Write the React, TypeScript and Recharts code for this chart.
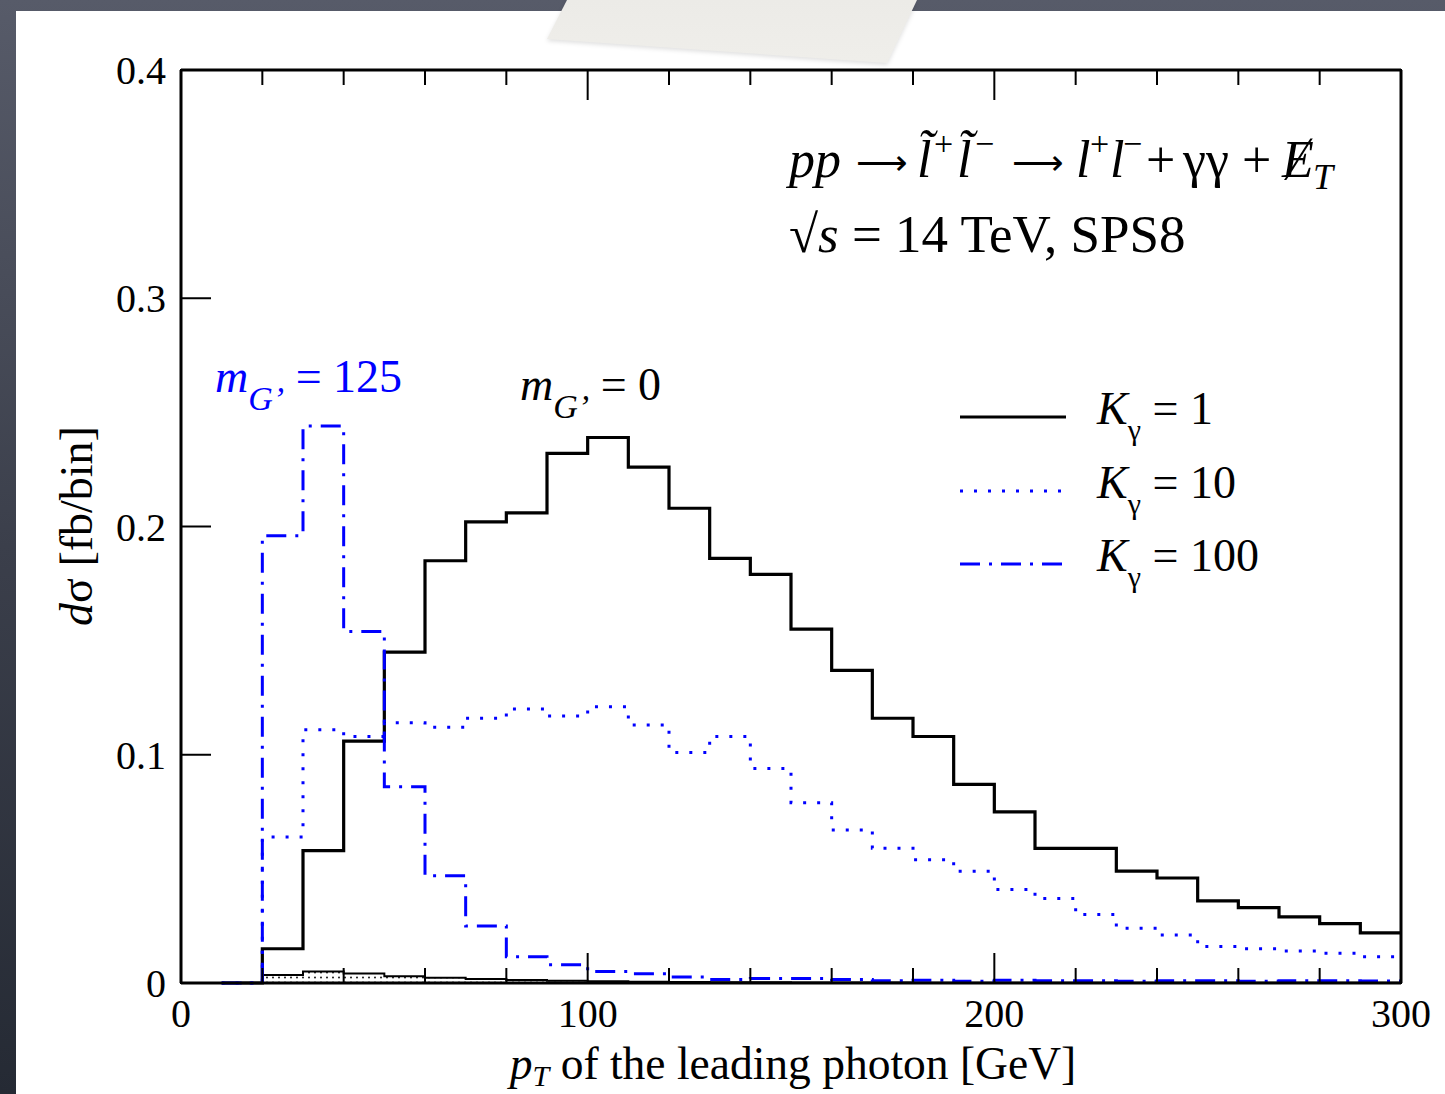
import React from "react";
import { ComposedChart, Line, Area, XAxis, YAxis, Legend, Label } from "recharts";

const FONT = '"Liberation Serif", "Times New Roman", serif';
const BLUE = "#0000ff";

// lower edge of each 10 GeV bin, pT of the leading photon
const binStart = [10, 20, 30, 40, 50, 60, 70, 80, 90, 100, 110, 120, 130, 140, 150, 160, 170, 180, 190, 200, 210, 220, 230, 240, 250, 260, 270, 280, 290];
const binEnd = 300;

// dσ [fb/bin]
const kGamma1 = [0, 0.015, 0.058, 0.106, 0.145, 0.185, 0.202, 0.206, 0.232, 0.239, 0.226, 0.208, 0.186, 0.179, 0.155, 0.137, 0.116, 0.108, 0.087, 0.075, 0.059, 0.059, 0.049, 0.046, 0.036, 0.033, 0.029, 0.026, 0.022];
const kGamma10 = [0, 0.064, 0.111, 0.108, 0.114, 0.112, 0.116, 0.12, 0.117, 0.121, 0.113, 0.101, 0.108, 0.094, 0.079, 0.067, 0.059, 0.054, 0.049, 0.041, 0.037, 0.03, 0.024, 0.021, 0.016, 0.015, 0.014, 0.013, 0.0115];
const kGamma100 = [0, 0.196, 0.244, 0.154, 0.086, 0.047, 0.025, 0.0115, 0.008, 0.005, 0.004, 0.0026, 0.0015, 0.002, 0.002, 0.0015, 0.001, 0.0012, 0.0008, 0.0012, 0.001, 0.001, 0.0008, 0.001, 0.001, 0.0008, 0.001, 0.001, 0.0009];
const shaded = [0, 0.0035, 0.005, 0.0042, 0.003, 0.0023, 0.0017, 0.0013, 0.001, 0.0008, 0.0006, 0.0004, 0.0003, 0.0003, 0.0002, 0.0002, 0.0002, 0.0001, 0.0001, 0.0001, 0.0001, 0.0001, 0.0001, 0.0001, 0.0001, 0.0001, 0.0001, 0.0001, 0.0001];

const xMajorTicks = [0, 100, 200, 300];
const xMinorTicks = [20, 40, 60, 80, 120, 140, 160, 180, 220, 240, 260, 280];
const yMajorTicks = [0, 0.1, 0.2, 0.3, 0.4];
const yTickLabels = ["0", "0.1", "0.2", "0.3", "0.4"];
const yMinorTicks = [0.02, 0.04, 0.06, 0.08, 0.12, 0.14, 0.16, 0.18, 0.22, 0.24, 0.26, 0.28, 0.32, 0.34, 0.36, 0.38];

const last = (a: number[]) => a[a.length - 1];
const data = [
  ...binStart.map((pt, i) => ({ pt, k1: kGamma1[i], k10: kGamma10[i], k100: kGamma100[i], low: shaded[i] })),
  { pt: binEnd, k1: last(kGamma1), k10: last(kGamma10), k100: last(kGamma100), low: last(shaded) },
];

const dashes: Record<string, string | undefined> = { k1: undefined, k10: "3 11", k100: "20 9 3 9" };

const frame = { stroke: "#000", strokeWidth: 3 };
const tickLine = { stroke: "#000", strokeWidth: 2 };
const tickText = { fontSize: 40, fill: "#000", fontFamily: FONT };
const NoLabel = () => <g />;

const LegendBox = (props: any) => {
  const items = (props.payload || []).filter((e: any) => e.type !== "none");
  return (
    <div style={{ fontFamily: FONT, fontSize: 46, color: "#000", position: "relative", width: 320, height: 230 }}>
      {items.map((e: any, i: number) => {
        const [sym, rhs] = String(e.value).split(" = ");
        return (
          <div key={e.dataKey} style={{ position: "absolute", left: 0, top: i * 73.5, width: 320, height: 60 }}>
            <svg width={108} height={10} style={{ position: "absolute", left: 0, top: 26 }}>
              <line x1={0} y1={5} x2={106} y2={5} stroke={e.color} strokeWidth={3} strokeDasharray={dashes[e.dataKey]} />
            </svg>
            <span style={{ position: "absolute", left: 137, top: 0, whiteSpace: "pre", lineHeight: "46px" }}>
              <i>{sym[0]}</i>
              <span style={{ position: "relative", top: 16, fontSize: 30 }}>{sym.slice(1)}</span>
              {" = " + rhs}
            </span>
          </div>
        );
      })}
    </div>
  );
};

const XTitle = () => (
  <text x={793} y={1079} textAnchor="middle" fontSize={45.5} fontFamily={FONT} fill="#000">
    <tspan fontStyle="italic">p</tspan>
    <tspan dy={7} fontSize={30} fontStyle="italic">T</tspan>
    <tspan dy={-7}> of the leading photon [GeV]</tspan>
  </text>
);

const YTitle = () => {
  const cy = 526;
  return (
    <text x={92} y={cy} transform={`rotate(-90 92 ${cy})`} textAnchor="middle" fontSize={46} fontFamily={FONT} fill="#000">
      <tspan fontStyle="italic">d</tspan>
      <tspan>σ [fb/bin]</tspan>
    </text>
  );
};

const Notes = () => (
  <g fontFamily={FONT} style={{ whiteSpace: "pre" }}>
    <text y={177} fontSize={52} fill="#000">
      <tspan x={789} fontStyle="italic">pp</tspan>
      <tspan x={856} dy={-2} fontSize={36}>⟶</tspan>
      <tspan x={917} dy={2} fontStyle="italic">{"l\u0303"}</tspan>
      <tspan x={934} dy={-22} fontSize={34}>+</tspan>
      <tspan x={957} dy={22} fontStyle="italic">{"l\u0303"}</tspan>
      <tspan x={975} dy={-22} fontSize={34}>−</tspan>
      <tspan x={1012} dy={20} fontSize={36}>⟶</tspan>
      <tspan x={1076} dy={2} fontStyle="italic">l</tspan>
      <tspan x={1090} dy={-22} fontSize={34}>+</tspan>
      <tspan x={1110} dy={22} fontStyle="italic">l</tspan>
      <tspan x={1123} dy={-22} fontSize={34}>−</tspan>
      <tspan x={1146} dy={22}>+</tspan>
      <tspan x={1183}>γγ</tspan>
      <tspan x={1242}>+</tspan>
      <tspan x={1282} fontStyle="italic">Ɇ</tspan>
      <tspan x={1313} dy={12} fontSize={36} fontStyle="italic">T</tspan>
    </text>
    <text x={789} y={252} fontSize={53} fill="#000">
      <tspan>√</tspan>
      <tspan fontStyle="italic">s</tspan>
      <tspan> = 14 TeV, SPS8</tspan>
    </text>
    <text x={215} y={392} fontSize={46} fill={BLUE}>
      <tspan fontStyle="italic">m</tspan>
      <tspan dy={18} fontSize={34} fontStyle="italic">G’</tspan>
      <tspan dy={-18}> = 125</tspan>
    </text>
    <text x={520} y={400} fontSize={46} fill="#000">
      <tspan fontStyle="italic">m</tspan>
      <tspan dy={18} fontSize={34} fontStyle="italic">G’</tspan>
      <tspan dy={-18}> = 0</tspan>
    </text>
  </g>
);

export default function App() {
  return (
    <div style={{ position: "absolute", left: 0, top: 0, width: 1445, height: 1094, overflow: "hidden", background: "linear-gradient(#575b69, #3b3f4b 50%, #252a34)" }}>
      <div style={{ position: "absolute", left: 16, top: 11, right: 0, bottom: 0, background: "#fff" }} />
      <div style={{ position: "absolute", left: 0, top: 0 }}>
        <ComposedChart width={1445} height={1094} data={data} margin={{ top: 68, right: 42, bottom: 0, left: 0 }}>
          <defs>
            <pattern id="dots" width={6} height={5} patternUnits="userSpaceOnUse">
              <rect width={6} height={5} fill="#fff" />
              <circle cx={3} cy={2.5} r={0.9} fill="#000" />
            </pattern>
          </defs>
          {/* major axes first (outer), minor axes second (inner, carry the frame line) */}
          <XAxis xAxisId="x1major" dataKey="pt" type="number" domain={[0, 300]} ticks={xMajorTicks} interval={0} height={110}
            tickSize={-31} tickMargin={46} axisLine={false} tickLine={tickLine} tick={tickText}>
            <Label content={XTitle} />
          </XAxis>
          <XAxis xAxisId="x0minor" dataKey="pt" type="number" domain={[0, 300]} ticks={xMinorTicks} interval={0} height={1}
            tickSize={-15} axisLine={frame} tickLine={tickLine} tick={NoLabel} />
          <XAxis xAxisId="x1top" orientation="top" dataKey="pt" type="number" domain={[0, 300]} ticks={xMajorTicks} interval={0} height={1}
            tickSize={-31} axisLine={false} tickLine={tickLine} tick={NoLabel} />
          <XAxis xAxisId="x0top" orientation="top" dataKey="pt" type="number" domain={[0, 300]} ticks={xMinorTicks} interval={0} height={1}
            tickSize={-15} axisLine={frame} tickLine={tickLine} tick={NoLabel} />
          <YAxis yAxisId="y1major" type="number" domain={[0, 0.4]} ticks={yMajorTicks} interval={0} width={180}
            tickSize={-31} tickMargin={45} axisLine={false} tickLine={tickLine} tick={tickText}
            tickFormatter={(v: number) => yTickLabels[yMajorTicks.indexOf(v)] ?? String(v)}>
            <Label content={YTitle} />
          </YAxis>
          <YAxis yAxisId="y0minor" type="number" domain={[0, 0.4]} ticks={yMinorTicks} interval={0} width={1}
            tickSize={-15} axisLine={frame} tickLine={tickLine} tick={NoLabel} />
          <YAxis yAxisId="y1right" orientation="right" type="number" domain={[0, 0.4]} ticks={yMajorTicks} interval={0} width={1}
            tickSize={-31} axisLine={false} tickLine={tickLine} tick={NoLabel} />
          <YAxis yAxisId="y0right" orientation="right" type="number" domain={[0, 0.4]} ticks={yMinorTicks} interval={0} width={1}
            tickSize={-15} axisLine={frame} tickLine={tickLine} tick={NoLabel} />
          <Area xAxisId="x1major" yAxisId="y1major" dataKey="low" type="stepAfter" stroke="#000" strokeWidth={2} fill="url(#dots)" fillOpacity={1}
            legendType="none" dot={false} activeDot={false} isAnimationActive={false} />
          <Line xAxisId="x1major" yAxisId="y1major" dataKey="k1" name="Kγ = 1" type="stepAfter" stroke="#000" strokeWidth={3.2}
            dot={false} activeDot={false} isAnimationActive={false} />
          <Line xAxisId="x1major" yAxisId="y1major" dataKey="k10" name="Kγ = 10" type="stepAfter" stroke={BLUE} strokeWidth={3} strokeDasharray={dashes.k10}
            dot={false} activeDot={false} isAnimationActive={false} />
          <Line xAxisId="x1major" yAxisId="y1major" dataKey="k100" name="Kγ = 100" type="stepAfter" stroke={BLUE} strokeWidth={3} strokeDasharray={dashes.k100}
            dot={false} activeDot={false} isAnimationActive={false} />
          <Legend layout="vertical" align="center" verticalAlign="middle" content={LegendBox}
            wrapperStyle={{ left: 960, top: 386, width: 320, height: 230 }} />
          <Notes />
        </ComposedChart>
      </div>
      <div style={{ position: "absolute", left: 0, top: 0, width: 1445, height: 80, filter: "drop-shadow(0 2px 2px rgba(0,0,0,0.12))", pointerEvents: "none" }}>
        <div style={{ position: "absolute", left: 0, top: 0, width: 1445, height: 80, background: "linear-gradient(#ecebe7, #f0efeb)",
          clipPath: "polygon(567px 0px, 917px 0px, 887px 63px, 547px 39px)" }} />
      </div>
    </div>
  );
}
